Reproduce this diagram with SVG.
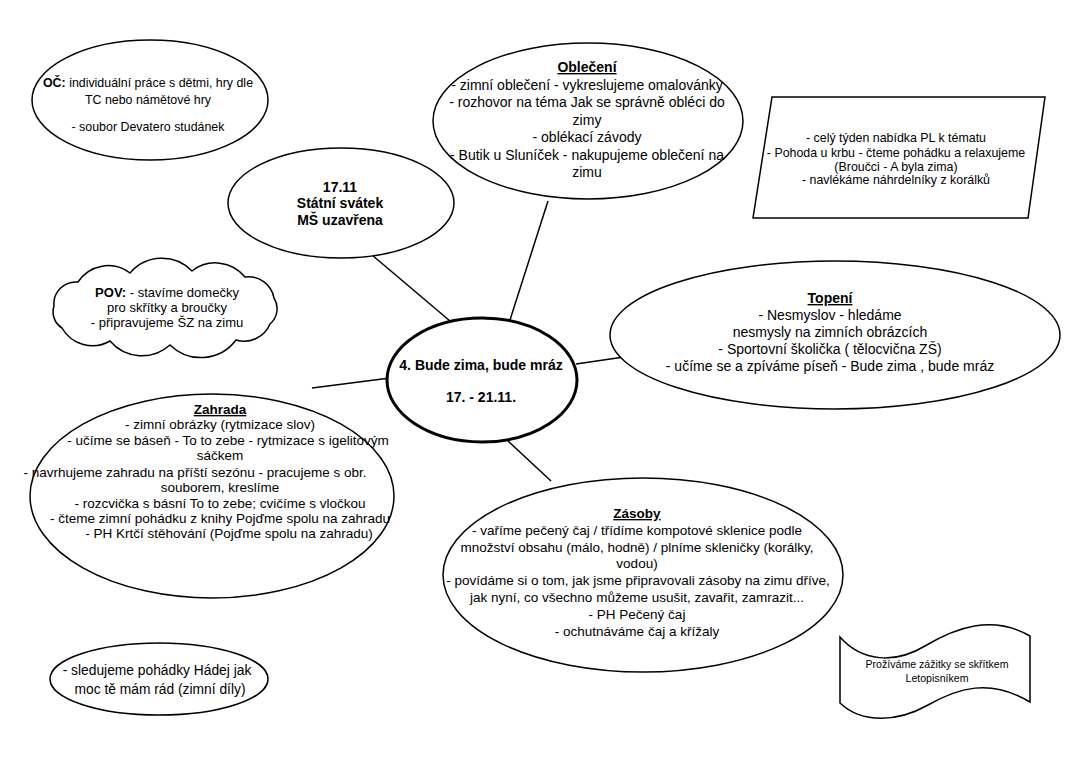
<svg xmlns="http://www.w3.org/2000/svg" width="1087" height="768" viewBox="0 0 1087 768">
<style>
.s{fill:#fff;stroke:#000;stroke-width:1.5}
.t{font-family:"Liberation Sans",Arial,sans-serif;font-size:13.5px;fill:#000;text-anchor:middle}
.m{font-size:14px}
.p{font-size:13px}
.sm{font-size:12.4px}
.xs{font-size:10.6px}
.b{font-weight:bold}
.u{text-decoration:underline}
.c line{stroke:#000;stroke-width:1.5}
</style>
<rect width="1087" height="768" fill="#fff"/>
<g class="c" id="connectors">
<line x1="548" y1="201" x2="510" y2="320"/>
<line x1="372" y1="255" x2="450" y2="321"/>
<line x1="576" y1="364" x2="624" y2="357"/>
<line x1="312" y1="388" x2="390" y2="378"/>
<line x1="508" y1="441" x2="551" y2="481"/>
</g>
<g id="oc">
<ellipse class="s" cx="150" cy="100" rx="118" ry="60"/>
<text class="t sm" x="148" y="87"><tspan class="b">OČ:</tspan> individuální práce s dětmi, hry dle</text>
<text class="t sm" x="148" y="104">TC nebo námětové hry</text>
<text class="t sm" x="148" y="131">- soubor Devatero studánek</text>
</g>
<g id="obleceni">
<ellipse class="s" cx="588" cy="121" rx="155" ry="78"/>
<text class="t m b u" x="587" y="72">Oblečení</text>
<text class="t m" x="587" y="90">- zimní oblečení - vykreslujeme omalovánky</text>
<text class="t m" x="587" y="107">- rozhovor na téma Jak se správně obléci do</text>
<text class="t m" x="587" y="125">zimy</text>
<text class="t m" x="587" y="142">- oblékací závody</text>
<text class="t m" x="587" y="160">- Butik u Sluníček - nakupujeme oblečení na</text>
<text class="t m" x="587" y="177">zimu</text>
</g>
<g id="pl">
<polygon class="s" points="772,97 1045,97 1028,218 753,218"/>
<text class="t sm" x="896" y="142">- celý týden nabídka PL k tématu</text>
<text class="t sm" x="896" y="157">- Pohoda u krbu - čteme pohádku a relaxujeme</text>
<text class="t sm" x="896" y="171">(Broučci - A byla zima)</text>
<text class="t sm" x="896" y="184">- navlékáme náhrdelníky z korálků</text>
</g>
<g id="svatek">
<ellipse class="s" cx="341" cy="203" rx="113" ry="55"/>
<text class="t m b" x="340" y="192">17.11</text>
<text class="t m b" x="340" y="208">Státní svátek</text>
<text class="t m b" x="340" y="225">MŠ uzavřena</text>
</g>
<g id="pov">
<path class="s" d="M54,306 A22 22 0 0 1 78,282 A36 36 0 0 1 130,273 A42 42 0 0 1 192,271 A38 38 0 0 1 245,277 A26 26 0 0 1 274,298 A20 20 0 0 1 270,324 A28 28 0 0 1 236,340 A44 44 0 0 1 170,345 A42 42 0 0 1 110,341 A35 35 0 0 1 62,328 A19 19 0 0 1 54,306 Z"/>
<text class="t p" x="167" y="297"><tspan class="b">POV:</tspan> - stavíme domečky</text>
<text class="t p" x="167" y="312">pro skřítky a broučky</text>
<text class="t p" x="167" y="327">- připravujeme ŠZ na zimu</text>
</g>
<g id="center">
<ellipse cx="482" cy="380" rx="95" ry="62" fill="#fff" stroke="#000" stroke-width="3"/>
<text class="t m b" x="481" y="370">4. Bude zima, bude mráz</text>
<text class="t m b" x="481" y="402">17. - 21.11.</text>
</g>
<g id="topeni">
<ellipse class="s" cx="835" cy="335" rx="225" ry="74"/>
<text class="t m b u" x="830" y="303">Topení</text>
<text class="t m" x="830" y="320">- Nesmyslov - hledáme</text>
<text class="t m" x="830" y="337">nesmysly na zimních obrázcích</text>
<text class="t m" x="830" y="354">- Sportovní školička ( tělocvična ZŠ)</text>
<text class="t m" x="830" y="371">- učíme se a zpíváme píseň - Bude zima , bude mráz</text>
</g>
<g id="zahrada">
<ellipse class="s" cx="212" cy="496" rx="182" ry="102"/>
<text class="t b u" x="220" y="414">Zahrada</text>
<text class="t" x="220" y="429">-  zimní obrázky (rytmizace slov)</text>
<text class="t" x="228" y="445">- učíme se báseň - To to zebe - rytmizace s igelitovým</text>
<text class="t" x="220" y="460">sáčkem</text>
<text class="t" x="195" y="477">- navrhujeme zahradu na příští sezónu - pracujeme s obr.</text>
<text class="t" x="220" y="492">souborem, kreslíme</text>
<text class="t" x="220" y="508">- rozcvička s básní To to zebe; cvičíme s vločkou</text>
<text class="t" x="220" y="523">- čteme zimní pohádku z knihy Pojďme spolu na zahradu</text>
<text class="t" x="229" y="538">- PH Krtčí stěhování (Pojďme spolu na zahradu)</text>
</g>
<g id="zasoby">
<ellipse class="s" cx="643" cy="575" rx="200" ry="97"/>
<text class="t b u" x="637" y="518">Zásoby</text>
<text class="t" x="637" y="535">- vaříme pečený čaj / třídíme kompotové sklenice podle</text>
<text class="t" x="637" y="552">množství obsahu (málo, hodně) / plníme skleničky (korálky,</text>
<text class="t" x="637" y="568">vodou)</text>
<text class="t" x="638" y="585">- povídáme si o tom, jak jsme připravovali zásoby na zimu dříve,</text>
<text class="t" x="637" y="602">jak nyní, co všechno můžeme usušit, zavařit, zamrazit...</text>
<text class="t" x="637" y="619">- PH Pečený čaj</text>
<text class="t" x="637" y="636">- ochutnáváme čaj a křížaly</text>
</g>
<g id="hadej">
<ellipse class="s" cx="159" cy="679" rx="109" ry="36"/>
<text class="t" style="font-size:13.8px" x="157" y="675">- sledujeme pohádky Hádej jak</text>
<text class="t" style="font-size:13.8px" x="160" y="694">moc tě mám rád (zimní díly)</text>
</g>
<g id="letopisnik">
<path class="s" d="M840,637 C862,662 895,664 925,646 C955,628 992,614 1030,636 L1030,702 C990,678 958,688 928,705 C898,722 862,724 840,703 Z"/>
<text class="t xs" x="937" y="668">Prožíváme zážitky se skřítkem</text>
<text class="t xs" x="937" y="682">Letopisníkem</text>
</g>
</svg>
